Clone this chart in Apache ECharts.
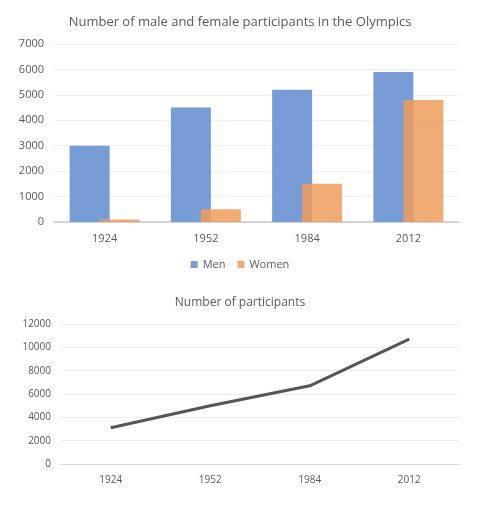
<!DOCTYPE html>
<html>
<head>
    <meta charset="UTF-8">
    <title>Olympic participants</title>
    <script src="https://cdn.jsdelivr.net/npm/echarts@6/dist/echarts.min.js"></script>
    <style>
        body {
            margin: 0;
            padding: 0;
            background-color: #fff;
        }
    </style>
</head>
<body>
<div id="main" style="width:480px; height:511px;"></div>

<script>
    // data
    var years = ['1924', '1952', '1984', '2012'];
    var men = [3000, 4500, 5200, 5900];
    var women = [100, 500, 1500, 4800];
    var total = [3100, 5000, 6700, 10700];

    var txt = '#595959';
    var font = 'Open Sans';

    function plain(v) {
        return String(v);
    }

    var chart = echarts.init(document.getElementById('main'), null, {renderer: 'canvas'});

    chart.setOption({
        animation: false,
        textStyle: {fontFamily: font},
        title: [
            {
                text: 'Number of male and female participants in the Olympics',
                left: 'center', top: 11,
                textStyle: {fontSize: 13, fontWeight: 'normal', color: txt, fontFamily: font}
            },
            {
                text: 'Number of participants',
                left: 'center', top: 292,
                textStyle: {fontSize: 12, fontWeight: 'normal', color: txt, fontFamily: font}
            }
        ],
        legend: {
            data: ['Men', 'Women'],
            top: 254, left: 'center',
            itemWidth: 7, itemHeight: 7, itemGap: 12,
            icon: 'rect',
            textStyle: {color: txt, fontSize: 11, fontFamily: font}
        },
        grid: [
            {left: 54, right: 21, top: 44, bottom: 289},
            {left: 61, right: 21, top: 324, bottom: 47}
        ],
        xAxis: [
            {
                type: 'category', gridIndex: 0, data: years,
                axisLine: {lineStyle: {color: '#c8c8c8', width: 1.5}},
                axisTick: {show: false},
                axisLabel: {color: txt, fontSize: 11, margin: 11}
            },
            {
                type: 'category', gridIndex: 1, data: years,
                axisLine: {lineStyle: {color: '#d9d9d9'}},
                axisTick: {alignWithLabel: true, length: 3, lineStyle: {color: '#d9d9d9'}},
                axisLabel: {color: txt, fontSize: 10, margin: 11}
            }
        ],
        yAxis: [
            {
                type: 'value', gridIndex: 0, min: 0, max: 7000, interval: 1000,
                axisLabel: {color: txt, fontSize: 11, margin: 10, formatter: plain},
                splitLine: {lineStyle: {color: '#f0f0f0'}}
            },
            {
                type: 'value', gridIndex: 1, min: 0, max: 12000, interval: 2000,
                axisLabel: {color: txt, fontSize: 10, margin: 10, formatter: plain},
                splitLine: {lineStyle: {color: '#ececec'}}
            }
        ],
        series: [
            {
                name: 'Men', type: 'bar', xAxisIndex: 0, yAxisIndex: 0,
                data: men, barWidth: 40, barGap: '-25%',
                itemStyle: {color: '#789cd6'}
            },
            {
                name: 'Women', type: 'bar', xAxisIndex: 0, yAxisIndex: 0,
                data: women, barWidth: 40,
                itemStyle: {color: '#ee9c5c', opacity: 0.85}
            },
            {
                name: 'Total', type: 'line', xAxisIndex: 1, yAxisIndex: 1,
                data: total, symbol: 'none',
                lineStyle: {color: '#565656', width: 3}
            }
        ]
    });
</script>
</body>
</html>
